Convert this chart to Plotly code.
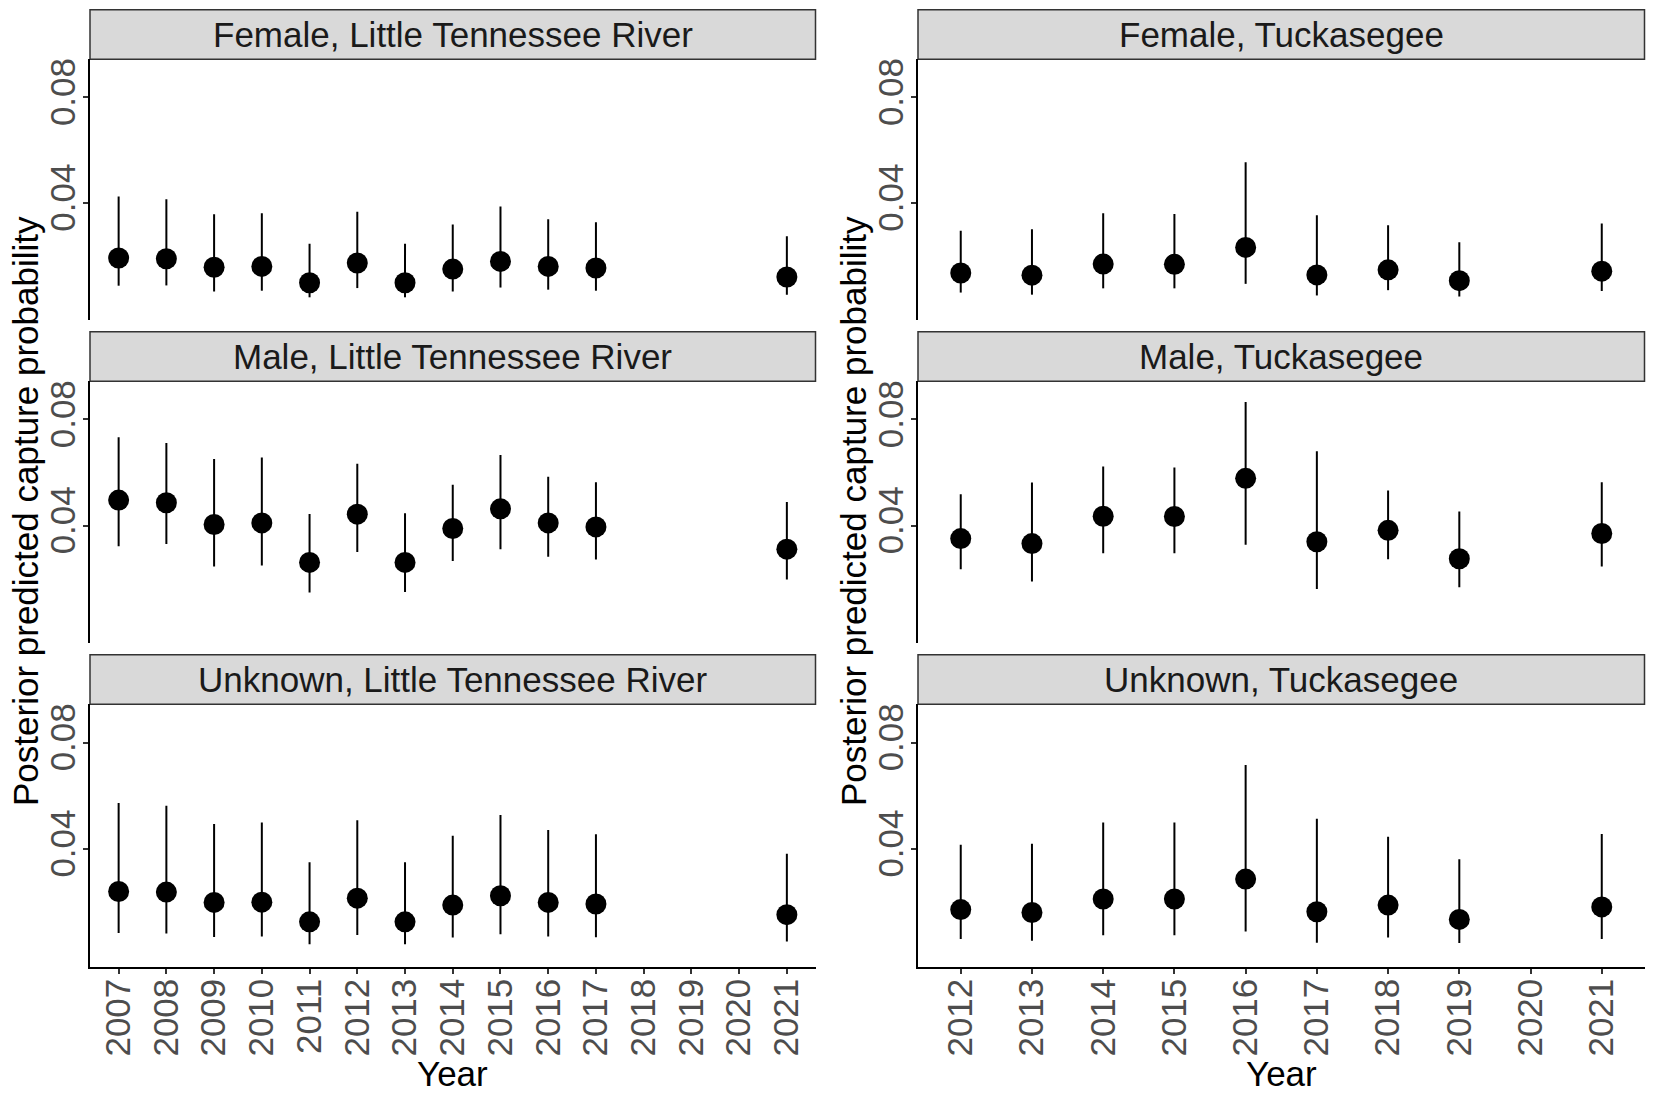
import plotly.graph_objects as go

# ---------------- data ----------------
years_ltr = [2007, 2008, 2009, 2010, 2011, 2012, 2013, 2014, 2015, 2016, 2017, 2021]
years_tuck = [2012, 2013, 2014, 2015, 2016, 2017, 2018, 2019, 2021]
ticks_ltr = list(range(2007, 2022))
ticks_tuck = list(range(2012, 2022))

female_ltr_mid = [0.0191, 0.0188, 0.0156, 0.0159, 0.0097, 0.0172, 0.0097, 0.0149, 0.0178, 0.0159, 0.0153, 0.0119]
female_ltr_lo = [0.0086, 0.0087, 0.0064, 0.0067, 0.0042, 0.0077, 0.0042, 0.0064, 0.0079, 0.0071, 0.0067, 0.0052]
female_ltr_hi = [0.0424, 0.0414, 0.0357, 0.0361, 0.0245, 0.0366, 0.0245, 0.0318, 0.0386, 0.0338, 0.0326, 0.0273]

male_ltr_mid = [0.0496, 0.0486, 0.0404, 0.0410, 0.0261, 0.0443, 0.0261, 0.0389, 0.0463, 0.0410, 0.0395, 0.0311]
male_ltr_lo = [0.0322, 0.0330, 0.0246, 0.0249, 0.0148, 0.0300, 0.0149, 0.0266, 0.0311, 0.0282, 0.0272, 0.0197]
male_ltr_hi = [0.0733, 0.0711, 0.0651, 0.0657, 0.0444, 0.0633, 0.0446, 0.0554, 0.0666, 0.0584, 0.0563, 0.0489]

unk_ltr_mid = [0.0239, 0.0237, 0.0198, 0.0199, 0.0125, 0.0214, 0.0125, 0.0188, 0.0223, 0.0198, 0.0192, 0.0152]
unk_ltr_lo = [0.0083, 0.0081, 0.0068, 0.0070, 0.0041, 0.0075, 0.0041, 0.0066, 0.0078, 0.0070, 0.0067, 0.0051]
unk_ltr_hi = [0.0572, 0.0562, 0.0493, 0.0499, 0.0349, 0.0507, 0.0349, 0.0449, 0.0527, 0.0471, 0.0455, 0.0381]

female_tuck_mid = [0.0134, 0.0126, 0.0168, 0.0167, 0.0231, 0.0127, 0.0146, 0.0105, 0.0141]
female_tuck_lo = [0.0060, 0.0052, 0.0076, 0.0076, 0.0093, 0.0049, 0.0069, 0.0045, 0.0066]
female_tuck_hi = [0.0294, 0.0300, 0.0361, 0.0358, 0.0554, 0.0353, 0.0315, 0.0251, 0.0322]

male_tuck_mid = [0.0351, 0.0332, 0.0435, 0.0434, 0.0578, 0.0339, 0.0382, 0.0275, 0.0370]
male_tuck_lo = [0.0235, 0.0189, 0.0296, 0.0296, 0.0328, 0.0161, 0.0273, 0.0167, 0.0246]
male_tuck_hi = [0.0518, 0.0562, 0.0623, 0.0619, 0.0866, 0.0680, 0.0532, 0.0453, 0.0563]

unk_tuck_mid = [0.0171, 0.0160, 0.0211, 0.0211, 0.0286, 0.0163, 0.0188, 0.0134, 0.0181]
unk_tuck_lo = [0.0060, 0.0054, 0.0074, 0.0074, 0.0089, 0.0046, 0.0066, 0.0045, 0.0060]
unk_tuck_hi = [0.0415, 0.0419, 0.0499, 0.0499, 0.0715, 0.0513, 0.0445, 0.0361, 0.0456]

panel_titles = [
    "Female, Little Tennessee River", "Female, Tuckasegee",
    "Male, Little Tennessee River", "Male, Tuckasegee",
    "Unknown, Little Tennessee River", "Unknown, Tuckasegee",
]
y_title = "Posterior predicted capture probability"
x_title = "Year"
y_ticks = [0.04, 0.08]
y_ticklabels = ["0.04", "0.08"]

# ---------------- layout geometry (page pixels) ----------------
PAGE_W, PAGE_H = 1654, 1094
OFF = 8                       # default body margin of the html page
W, H = PAGE_W - OFF, PAGE_H - OFF
col_px = [(90, 815.5), (918, 1644.5)]
row_px = [(59.3, 320.0), (381.3, 643.3), (704.3, 966.7)]
strip_h = 49.5
yrange = [-0.0044, 0.0944]

def fx(p):
    return (p - OFF) / W

def fy(p):
    return 1 - (p - OFF) / H

panels = [
    (years_ltr, female_ltr_mid, female_ltr_lo, female_ltr_hi, 0, 0),
    (years_tuck, female_tuck_mid, female_tuck_lo, female_tuck_hi, 0, 1),
    (years_ltr, male_ltr_mid, male_ltr_lo, male_ltr_hi, 1, 0),
    (years_tuck, male_tuck_mid, male_tuck_lo, male_tuck_hi, 1, 1),
    (years_ltr, unk_ltr_mid, unk_ltr_lo, unk_ltr_hi, 2, 0),
    (years_tuck, unk_tuck_mid, unk_tuck_lo, unk_tuck_hi, 2, 1),
]

FONT = "Liberation Sans, Arial, sans-serif"
TICKFONT = dict(size=35, color="#4D4D4D", family=FONT)
fig = go.Figure()
layout = dict(
    width=W, height=H, margin=dict(l=0, r=0, t=0, b=0),
    paper_bgcolor="white", plot_bgcolor="white", showlegend=False,
    font=dict(family=FONT, color="black"),
)
shapes = []
annotations = []

for i, (yrs, mid, lo, hi, r, c) in enumerate(panels):
    n = i + 1
    xa = "x" if n == 1 else f"x{n}"
    ya = "y" if n == 1 else f"y{n}"
    plus = [h - m for h, m in zip(hi, mid)]
    minus = [m - l for m, l in zip(mid, lo)]
    fig.add_trace(go.Scatter(
        x=yrs, y=mid, mode="markers", xaxis=xa, yaxis=ya,
        marker=dict(color="black", size=21),
        error_y=dict(type="data", symmetric=False, array=plus, arrayminus=minus,
                     color="black", thickness=2, width=0),
        hoverinfo="x+y",
    ))
    x0, x1 = col_px[c]
    t, b = row_px[r]
    tickyears = ticks_ltr if c == 0 else ticks_tuck
    bottom = (r == 2)
    layout["xaxis" if n == 1 else f"xaxis{n}"] = dict(
        domain=[fx(x0), fx(x1)], anchor=ya,
        range=[tickyears[0] - 0.6, tickyears[-1] + 0.6],
        tickvals=tickyears, ticktext=[str(v) for v in tickyears],
        showticklabels=bottom, ticks="outside" if bottom else "",
        ticklen=5, tickwidth=1.5, tickcolor="#333333",
        tickangle=-90, tickfont=TICKFONT, ticklabelstandoff=-9,
        showline=bottom, linecolor="black", linewidth=2,
        showgrid=False, zeroline=False, fixedrange=True,
    )
    layout["yaxis" if n == 1 else f"yaxis{n}"] = dict(
        domain=[fy(b), fy(t)], anchor=xa, range=yrange,
        tickvals=y_ticks, ticktext=y_ticklabels,
        ticks="outside", ticklen=5, tickwidth=1.5, tickcolor="#333333",
        tickangle=-90, tickfont=TICKFONT, ticklabelstandoff=-6,
        showline=True, linecolor="black", linewidth=2,
        showgrid=False, zeroline=False, fixedrange=True,
    )
    # strip
    shapes.append(dict(
        type="rect", xref="paper", yref="paper",
        x0=fx(x0), x1=fx(x1), y0=fy(t), y1=fy(t - strip_h),
        fillcolor="#D9D9D9", line=dict(color="#333333", width=1.5), layer="below",
    ))
    annotations.append(dict(
        text=panel_titles[i], xref="paper", yref="paper",
        x=fx((x0 + x1) / 2), y=fy(t - strip_h / 2),
        xanchor="center", yanchor="middle", showarrow=False,
        font=dict(size=35, color="#1A1A1A", family=FONT),
    ))

# axis titles per column
for c, (x0, x1) in enumerate(col_px):
    annotations.append(dict(
        text=y_title, xref="paper", yref="paper",
        x=fx(x0 - 65), y=fy(511), xanchor="center", yanchor="middle",
        textangle=-90, showarrow=False, font=dict(size=35, color="black", family=FONT),
    ))
    annotations.append(dict(
        text=x_title, xref="paper", yref="paper",
        x=fx((x0 + x1) / 2), y=fy(1073), xanchor="center", yanchor="middle",
        showarrow=False, font=dict(size=35, color="black", family=FONT),
    ))

layout["shapes"] = shapes
layout["annotations"] = annotations
fig.update_layout(**layout)
fig.write_html("out.html")
